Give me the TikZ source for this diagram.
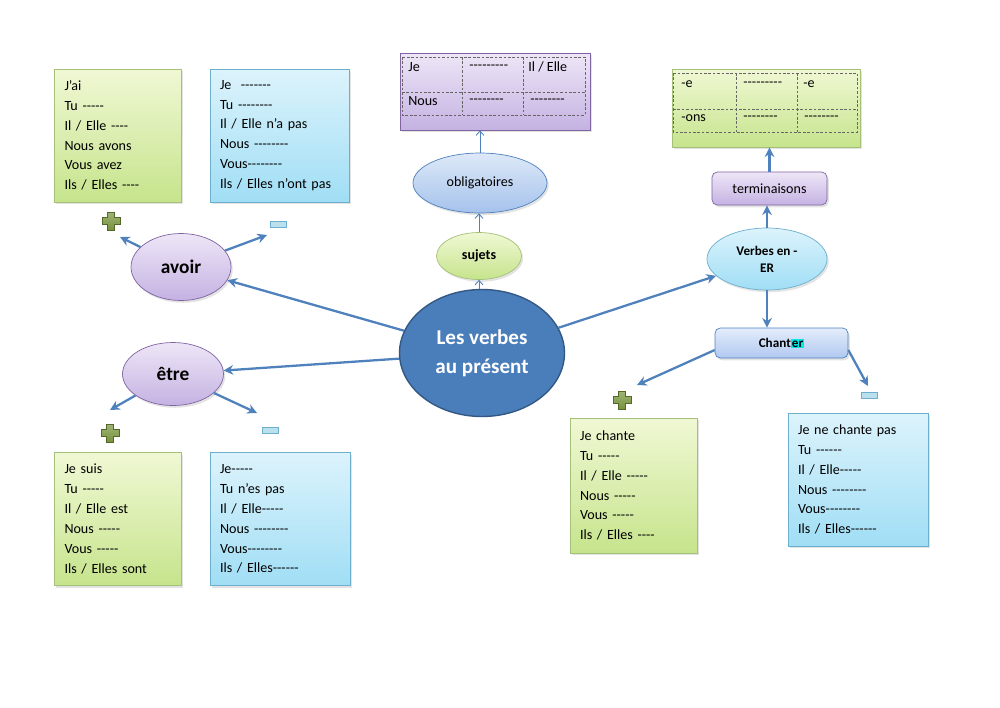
\documentclass[tikz,border=0pt]{standalone}
\usepackage{fontspec}
\setmainfont{Carlito}[Ligatures=TeXOff]
\usetikzlibrary{shapes.geometric,shadows,arrows.meta}

\definecolor{fleche}{RGB}{79,129,189}
\definecolor{vertclair}{RGB}{240,248,212}
\definecolor{vertfonce}{RGB}{198,228,140}
\definecolor{bordvert}{RGB}{165,192,120}
\definecolor{bleuclair}{RGB}{220,243,252}
\definecolor{bleufonce}{RGB}{160,222,245}
\definecolor{bordbleu}{RGB}{110,175,205}
\definecolor{violclair}{RGB}{238,230,247}
\definecolor{violfonce}{RGB}{196,178,226}
\definecolor{bordviol}{RGB}{128,100,162}
\definecolor{centrefond}{RGB}{74,126,187}
\definecolor{centrebord}{RGB}{52,88,132}
\definecolor{obligclair}{RGB}{222,233,248}
\definecolor{obligfonce}{RGB}{165,194,236}
\definecolor{chantclair}{RGB}{228,237,251}
\definecolor{chantfonce}{RGB}{176,200,240}
\definecolor{croixfond}{RGB}{119,147,60}
\definecolor{croixbord}{RGB}{84,104,42}
\definecolor{moinsfond}{RGB}{185,224,236}
\definecolor{surligne}{RGB}{0,232,232}

\begin{document}
\begin{tikzpicture}[x=0.02cm,y=-0.02cm,
  fl/.style={fleche,line width=1.3pt,-{Stealth[length=5.5pt,width=5.5pt]}},
  flfine/.style={fleche,line width=0.5pt,-{Straight Barb[length=2.5pt,width=4.5pt]}},
  ombre/.style={drop shadow={opacity=0.22,shadow xshift=1pt,shadow yshift=-1.3pt}},
  vert/.style={draw=bordvert,top color=vertclair,bottom color=vertfonce,ombre},
  bleu/.style={draw=bordbleu,top color=bleuclair,bottom color=bleufonce,ombre},
  viol/.style={draw=bordviol,top color=violclair,bottom color=violfonce,ombre},
  liste/.style={rectangle,minimum height=2.66cm,inner xsep=0.2cm,align=left,
    font=\fontsize{8}{11.3}\selectfont},
  bulle/.style={ellipse,inner sep=0pt,align=center},
  grille/.style={draw=black!60,dash pattern=on 1.5pt off 1pt,line width=0.4pt},
  cellule/.style={anchor=west,inner sep=0pt,font=\fontsize{8}{10}\selectfont},
  croix/.style={draw=croixbord,line width=0.4pt,top color=croixfond!70!white,bottom color=croixfond},
  moins/.style={rectangle,draw=bordbleu,fill=moinsfond,line width=0.5pt,
    minimum width=0.32cm,minimum height=0.12cm,inner sep=0pt}]

\useasboundingbox (0,0) rectangle (1000,707);

% boites de conjugaison
\node[liste,vert,text width=2.14cm] (avoirPlus) at (118,135.5)
  {J’ai\\Tu -----\\Il / Elle ----\\Nous avons\\Vous avez\\Ils / Elles ----};
\node[liste,bleu,text width=2.38cm] (avoirMoins) at (279.5,135.5)
  {Je \ -------\\Tu --------\\Il / Elle n’a pas\\Nous --------\\Vous--------\\Ils / Elles n’ont pas};
\node[liste,vert,text width=2.14cm] (etrePlus) at (118,519)
  {Je suis\\Tu -----\\Il / Elle est\\Nous -----\\Vous -----\\Ils / Elles sont};
\node[liste,bleu,text width=2.40cm] (etreMoins) at (280,519)
  {Je-----\\Tu n’es pas\\Il / Elle-----\\Nous --------\\Vous--------\\Ils / Elles------};
\node[liste,vert,text width=2.14cm,minimum height=2.7cm] (chantPlus) at (633.5,485.5)
  {Je chante\\Tu -----\\Il / Elle -----\\Nous -----\\Vous -----\\Ils / Elles ----};
\node[liste,bleu,text width=2.40cm] (chantMoins) at (858,479.5)
  {Je ne chante pas\\Tu ------\\Il / Elle-----\\Nous --------\\Vous--------\\Ils / Elles------};

% tableaux du haut
\node[rectangle,viol,minimum width=3.8cm,minimum height=1.54cm] (tabSujets) at (495,91.5) {};
\draw[grille] (402,57) rectangle (585,115)
  (402,92) -- (585,92) (462,57) -- (462,115) (523,57) -- (523,115);
\node[cellule] (sJe) at (408,67) {Je};
\node[cellule] (sT1) at (469,67) {---------};
\node[cellule] (sIl) at (528,67) {Il / Elle};
\node[cellule] (sNous) at (408,101) {Nous};
\node[cellule] (sT2) at (469,101) {--------};
\node[cellule] (sT3) at (530,101) {--------};

\node[rectangle,vert,minimum width=3.76cm,minimum height=1.56cm] (tabTerm) at (766,108) {};
\draw[grille] (673,73) rectangle (857,132)
  (673,109) -- (857,109) (736,73) -- (736,132) (797,73) -- (797,132);
\node[cellule] (tE1) at (681,84) {-e};
\node[cellule] (tT1) at (743,84) {---------};
\node[cellule] (tE2) at (803,84) {-e};
\node[cellule] (tOns) at (681,118) {-ons};
\node[cellule] (tT2) at (743,118) {--------};
\node[cellule] (tT3) at (804,118) {--------};

% bulles
\node[bulle,draw=centrebord,fill=centrefond,text=white,line width=0.8pt,
  minimum width=3.3cm,minimum height=2.54cm,
  font=\fontsize{12}{16.4}\selectfont\bfseries] (centre) at (482,353)
  {Les verbes\\au présent};
\node[bulle,viol,minimum width=2cm,minimum height=1.34cm,
  font=\fontsize{11}{13}\selectfont\bfseries] (avoir) at (181,267) {avoir};
\node[bulle,viol,minimum width=2.02cm,minimum height=1.26cm,
  font=\fontsize{11}{13}\selectfont\bfseries] (etre) at (173,374) {être};
\node[bulle,draw=bordvert,top color=vertclair,bottom color=vertfonce,ombre,
  minimum width=1.7cm,minimum height=0.94cm,
  font=\fontsize{8}{10}\selectfont\bfseries] (sujets) at (479,256) {sujets};
\node[bulle,draw=fleche,top color=obligclair,bottom color=obligfonce,ombre,
  minimum width=2.68cm,minimum height=1.2cm,
  font=\fontsize{8}{10}\selectfont] (oblig) at (480,183) {obligatoires};
\node[bulle,draw=bordbleu,top color=bleuclair,bottom color=bleufonce,ombre,
  minimum width=2.4cm,minimum height=1.24cm,
  font=\fontsize{7.5}{9.6}\selectfont\bfseries] (verbesER) at (767,259) {Verbes en -\\ER};
\node[rectangle,rounded corners=3pt,viol,minimum width=2.3cm,minimum height=0.66cm,
  font=\fontsize{8}{10}\selectfont] (termin) at (769.5,188.5) {terminaisons};
\node[rectangle,rounded corners=3pt,draw=fleche,top color=chantclair,bottom color=chantfonce,ombre,
  minimum width=2.66cm,minimum height=0.6cm,
  font=\fontsize{7.5}{9}\selectfont\bfseries] (chanter) at (781.5,343)
  {Chant{\fboxsep=0.6pt\colorbox{surligne}{er}}};

% signes plus et moins
\coordinate (plusA) at (111,221);
\coordinate (plusE) at (110,433);
\coordinate (plusC) at (622,400);
\foreach \p in {plusA,plusE,plusC}
  \draw[croix,shift={(\p)}] (-3.5,-9) -- (3.5,-9) -- (3.5,-3.5) -- (9,-3.5)
    -- (9,3.5) -- (3.5,3.5) -- (3.5,9) -- (-3.5,9) -- (-3.5,3.5)
    -- (-9,3.5) -- (-9,-3.5) -- (-3.5,-3.5) -- cycle;
\node[moins] (moinsA) at (278,224) {};
\node[moins] (moinsE) at (270,430) {};
\node[moins] (moinsC) at (869,395) {};

\coordinate (tPA) at (120,237);
\coordinate (tMA) at (267,235);
\coordinate (tPE) at (110,410);
\coordinate (tME) at (257,413);
\coordinate (tPC) at (637,385);
\coordinate (tMC) at (868,386);

% fleches
\draw[fl] (centre) -- (avoir);
\draw[fl] (centre) -- (etre);
\draw[fl] (centre) -- (verbesER);
\draw[fl] (avoir) -- (tPA);
\draw[fl] (avoir) -- (tMA);
\draw[fl] (etre) -- (tPE);
\draw[fl] (etre) -- (tME);
\draw[fl] (verbesER.north) -- (verbesER.north |- termin.south);
\draw[fl] (termin.north) -- (termin.north |- tabTerm.south);
\draw[fl] (verbesER.south) -- (verbesER.south |- chanter.north);
\draw[fl] ([yshift=-4pt]chanter.west) -- (tPC);
\draw[fl] ([yshift=-4pt]chanter.east) -- (tMC);
\draw[flfine] (centre.north -| sujets.south) -- (sujets.south);
\draw[flfine] (sujets.north) -- (sujets.north |- oblig.south);
\draw[flfine] (oblig.north) -- (oblig.north |- tabSujets.south);
\end{tikzpicture}
\end{document}
